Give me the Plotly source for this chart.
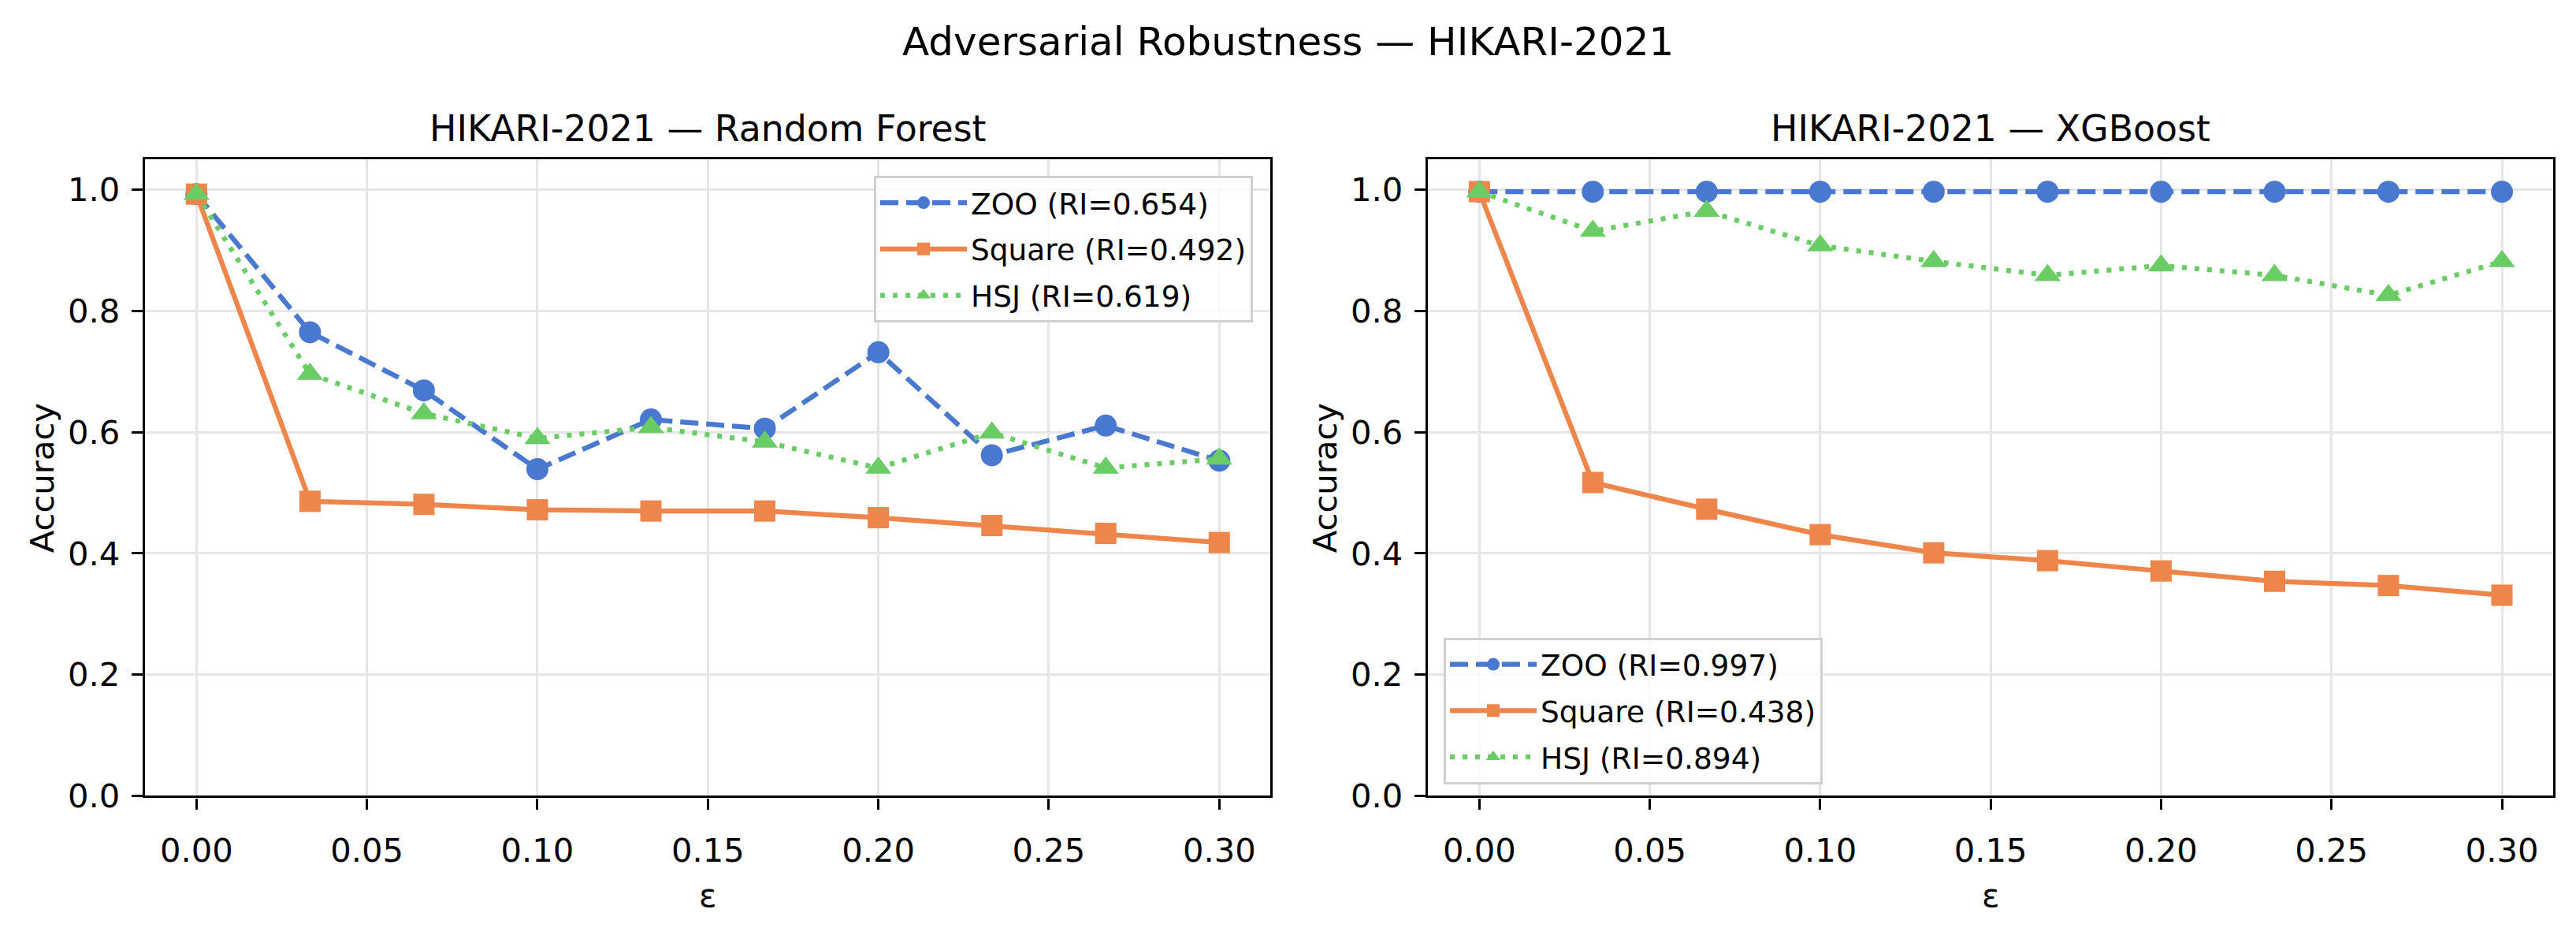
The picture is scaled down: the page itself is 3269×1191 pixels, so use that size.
import plotly.graph_objects as go

# ---------------- data ----------------
eps = [0.0, 0.0333, 0.0667, 0.1, 0.1333, 0.1667, 0.2, 0.2333, 0.2667, 0.3]

rf_zoo = [0.993, 0.765, 0.669, 0.539, 0.621, 0.606, 0.732, 0.562, 0.611, 0.553]
rf_square = [0.993, 0.486, 0.481, 0.472, 0.470, 0.470, 0.459, 0.446, 0.433, 0.418]
rf_hsj = [0.993, 0.696, 0.631, 0.590, 0.608, 0.584, 0.541, 0.599, 0.541, 0.556]

xgb_zoo = [0.997, 0.997, 0.997, 0.997, 0.997, 0.997, 0.997, 0.997, 0.997, 0.997]
xgb_square = [0.997, 0.517, 0.473, 0.431, 0.401, 0.388, 0.371, 0.354, 0.347, 0.331]
xgb_hsj = [0.997, 0.932, 0.965, 0.908, 0.882, 0.859, 0.875, 0.859, 0.826, 0.882]

rf_labels = ["ZOO (RI=0.654)", "Square (RI=0.492)", "HSJ (RI=0.619)"]
xgb_labels = ["ZOO (RI=0.997)", "Square (RI=0.438)", "HSJ (RI=0.894)"]

suptitle = "Adversarial Robustness \u2014 HIKARI-2021"
titles = ["HIKARI-2021 \u2014 Random Forest", "HIKARI-2021 \u2014 XGBoost"]
x_ticks = [0.0, 0.05, 0.10, 0.15, 0.20, 0.25, 0.30]
y_ticks = [0.0, 0.2, 0.4, 0.6, 0.8, 1.0]

# ---------------- style ----------------
W, H = 3269, 1191
FONT = "DejaVu Sans"
BLUE, ORANGE, GREEN = "#4878D0", "#EE854A", "#6ACC64"
LW = 6.25
styles = [
    dict(color=BLUE, dash="23px,10px", symbol="circle", size=28),
    dict(color=ORANGE, dash="solid", symbol="square", size=27),
    dict(color=GREEN, dash="6px,10px", symbol="triangle-up", size=29),
]

fig = go.Figure()

def add_panel(series, labels, xa, ya, legend, prefix):
    for i, (vals, lab, st) in enumerate(zip(series, labels, styles)):
        fig.add_trace(go.Scatter(
            x=eps, y=vals, name=lab, mode="lines+markers",
            xaxis=xa, yaxis=ya, legend=legend, legendgroup=f"{prefix}{i}",
            line=dict(color=st["color"], width=LW, dash=st["dash"]),
            marker=dict(symbol=st["symbol"], size=st["size"], color=st["color"],
                        line=dict(width=0)),
            cliponaxis=False,
        ))

add_panel([rf_zoo, rf_square, rf_hsj], rf_labels, "x", "y", "legend", "rf")
add_panel([xgb_zoo, xgb_square, xgb_hsj], xgb_labels, "x2", "y2", "legend2", "xgb")

left_dom = [184.4 / W, 1612.2 / W]
right_dom = [1812.4 / W, 3239.9 / W]
y_dom = [1 - 1031 / H, 1 - 206.75 / H]

axis_common = dict(
    showline=True, linecolor="black", linewidth=3.3, mirror=True,
    ticks="outside", ticklen=14.6, tickwidth=3.3, tickcolor="black",
    showgrid=True, gridcolor="#e6e6e6", gridwidth=3.3, zeroline=False,
    tickfont=dict(family=FONT, size=41.7, color="black"),
)

xa = dict(axis_common, range=[-0.015, 0.315], tickvals=x_ticks, tickformat=".2f",
          ticklabelstandoff=16)
ya = dict(axis_common, range=[0, 1.05], tickvals=y_ticks, tickformat=".1f",
          ticklabelstandoff=6)

legend_common = dict(
    font=dict(family=FONT, size=37.5, color="black"),
    bgcolor="rgba(255,255,255,0.8)", bordercolor="#d0d0d0", borderwidth=3,
    tracegroupgap=7, itemwidth=110,
)

fig.update_layout(
    width=W, height=H,
    margin=dict(l=0, r=0, t=0, b=0),
    paper_bgcolor="white", plot_bgcolor="white",
    font=dict(family=FONT, color="black"),
    xaxis=dict(xa, domain=left_dom, anchor="y"),
    yaxis=dict(ya, domain=y_dom, anchor="x"),
    xaxis2=dict(xa, domain=right_dom, anchor="y2"),
    yaxis2=dict(ya, domain=y_dom, anchor="x2"),
    legend=dict(legend_common, x=1590 / W, y=1 - 228 / H, xanchor="right", yanchor="top"),
    legend2=dict(legend_common, x=1832 / W, y=1 - 1016 / H, xanchor="left", yanchor="bottom"),
    showlegend=True,
)

ann = []
ann.append(dict(text=suptitle, x=0.5, y=1 - 54 / H, xref="paper", yref="paper",
                xanchor="center", yanchor="middle", showarrow=False,
                font=dict(family=FONT, size=50, color="black")))
for dom, t in zip([left_dom, right_dom], titles):
    cx = (dom[0] + dom[1]) / 2
    ann.append(dict(text=t, x=cx, y=1 - 166 / H, xref="paper", yref="paper",
                    xanchor="center", yanchor="middle", showarrow=False,
                    font=dict(family=FONT, size=45.8, color="black")))
    ann.append(dict(text="\u03b5", x=cx, y=1 - 1160 / H, xref="paper", yref="paper",
                    xanchor="center", yanchor="middle", showarrow=False,
                    font=dict(family=FONT, size=41.7, color="black")))
    ann.append(dict(text="Accuracy", x=(dom[0] * W - 131) / W, y=(y_dom[0] + y_dom[1]) / 2,
                    xref="paper", yref="paper", textangle=-90,
                    xanchor="center", yanchor="middle", showarrow=False,
                    font=dict(family=FONT, size=41.7, color="black")))
fig.update_layout(annotations=ann)

fig.write_html("out.html")
